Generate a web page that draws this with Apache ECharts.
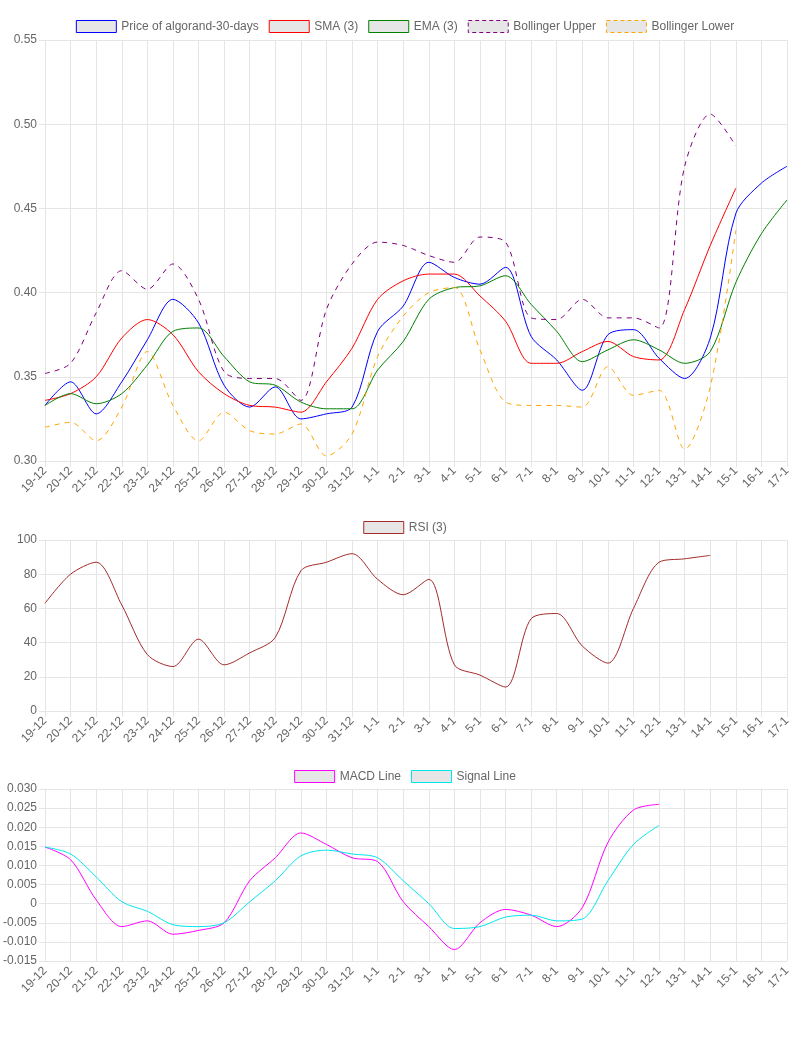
<!DOCTYPE html>
<html>
<head>
<meta charset="utf-8">
<script src="https://cdn.jsdelivr.net/npm/echarts@6/dist/echarts.min.js"></script>
<style>
  html, body { margin: 0; padding: 0; background: #fff; }
  #chart { width: 810px; height: 1060px; }
</style>
</head>
<body>
<div id="chart"></div>
<script>
// dates
const dates = ['19-12','20-12','21-12','22-12','23-12','24-12','25-12','26-12','27-12','28-12','29-12','30-12','31-12',
  '1-1','2-1','3-1','4-1','5-1','6-1','7-1','8-1','9-1','10-1','11-1','12-1','13-1','14-1','15-1','16-1','17-1'];

// price chart
const price = [0.333,0.347,0.328,0.347,0.372,0.396,0.382,0.345,0.332,0.344,0.325,0.328,0.332,0.377,0.392,
  0.418,0.409,0.405,0.415,0.374,0.360,0.342,0.375,0.378,0.361,0.349,0.373,0.447,0.465,0.475];
const sma = [0.336,0.340,0.350,0.373,0.384,0.375,0.353,0.340,0.333,0.332,0.329,0.347,0.367,0.396,0.407,
  0.411,0.411,0.398,0.383,0.358,0.358,0.365,0.371,0.362,0.360,0.390,0.428,0.462,null,null];
const ema = [0.333,0.340,0.334,0.340,0.357,0.377,0.379,0.362,0.347,0.345,0.335,0.331,0.331,0.354,0.371,
  0.396,0.403,0.404,0.410,0.393,0.377,0.359,0.366,0.372,0.366,0.358,0.365,0.406,0.435,0.455];
const bbUpper = [0.352,0.358,0.388,0.413,0.402,0.417,0.396,0.353,0.349,0.349,0.336,0.390,0.417,0.430,0.428,
  0.422,0.418,0.433,0.430,0.385,0.384,0.396,0.385,0.385,0.379,0.475,0.506,0.487,null,null];
const bbLower = [0.320,0.323,0.312,0.332,0.365,0.333,0.312,0.329,0.318,0.316,0.322,0.303,0.316,0.362,0.386,
  0.400,0.403,0.366,0.335,0.333,0.333,0.332,0.356,0.339,0.342,0.307,0.344,0.437,null,null];

// RSI
const rsi = [63,80,87,62,33,26,42,27,34,43,82,87,92,77,68,77,27,21,14,54,57,38,28,60,87,89,91,null,null,null];

// MACD
const macd = [0.0148,0.0115,0.001,-0.006,-0.0045,-0.008,-0.007,-0.005,0.006,0.012,0.0185,0.0155,0.012,0.011,
  0.0005,-0.006,-0.012,-0.005,-0.0015,-0.003,-0.006,-0.001,0.016,0.0245,0.026,null,null,null,null,null];
const signal = [0.0148,0.013,0.007,0.0005,-0.002,-0.0055,-0.006,-0.005,0.0005,0.006,0.0125,0.014,0.013,0.012,
  0.006,0,-0.0065,-0.006,-0.0035,-0.003,-0.0045,-0.004,0.006,0.0155,0.0205,null,null,null,null,null];

const chart = echarts.init(document.getElementById('chart'));
const gridColor = '#e5e5e5';
const txt = { color: '#666', fontSize: 12, fontFamily: 'Arial, Liberation Sans, sans-serif' };

function xAxis(i) {
  return {
    type: 'category', gridIndex: i, data: dates, boundaryGap: false,
    axisLine: { lineStyle: { color: gridColor } },
    axisTick: { show: true, length: 6, lineStyle: { color: gridColor } },
    axisLabel: Object.assign({ rotate: 45, interval: 0, margin: 8 }, txt),
    splitLine: { show: true, lineStyle: { color: gridColor } }
  };
}
function yAxis(i, min, max, step, fmt) {
  return {
    type: 'value', gridIndex: i, min: min, max: max, interval: step,
    axisLine: { show: true, lineStyle: { color: gridColor } },
    axisTick: { show: true, length: 6, lineStyle: { color: gridColor } },
    axisLabel: Object.assign({ formatter: fmt }, txt),
    splitLine: { lineStyle: { color: gridColor } }
  };
}
function line(name, data, color, xi, dashed) {
  return {
    name: name, type: 'line', data: data, xAxisIndex: xi, yAxisIndex: xi,
    smooth: 0.3, symbol: 'none', connectNulls: false,
    lineStyle: { color: color, width: 1, type: dashed ? [5, 5] : 'solid' },
    itemStyle: { color: '#e6e6e6', borderColor: color, borderWidth: 1 }
  };
}
// legend entries: [name, colour, dashed]
function legend(top, items) {
  return {
    top: top, left: 'center', itemWidth: 40, itemHeight: 12, itemGap: 10, icon: 'rect',
    textStyle: txt,
    data: items.map(it => ({
      name: it[0],
      itemStyle: { color: '#e6e6e6', borderColor: it[1], borderWidth: 1, borderType: it[2] ? [4, 3] : 'solid' },
      lineStyle: { opacity: 0 }
    }))
  };
}

chart.setOption({
  animation: false,
  backgroundColor: '#fff',
  legend: [
    legend(15, [['Price of algorand-30-days', '#0000ff'], ['SMA (3)', '#ff0000'], ['EMA (3)', '#008000'],
      ['Bollinger Upper', '#800080', true], ['Bollinger Lower', '#ffa500', true]]),
    legend(516, [['RSI (3)', '#a52a2a']]),
    legend(765, [['MACD Line', '#ff00ff'], ['Signal Line', '#00e5ee']])
  ],
  grid: [
    { left: 45, right: 23, top: 40, height: 421 },
    { left: 45, right: 23, top: 540, height: 171 },
    { left: 45, right: 23, top: 789, height: 172 }
  ],
  xAxis: [xAxis(0), xAxis(1), xAxis(2)],
  yAxis: [
    yAxis(0, 0.30, 0.55, 0.05, v => v.toFixed(2)),
    yAxis(1, 0, 100, 20, v => String(v)),
    yAxis(2, -0.015, 0.030, 0.005, v => Math.abs(v) < 1e-9 ? '0' : v.toFixed(3))
  ],
  series: [
    line('Price of algorand-30-days', price, '#0000ff', 0),
    line('SMA (3)', sma, '#ff0000', 0),
    line('EMA (3)', ema, '#008000', 0),
    line('Bollinger Upper', bbUpper, '#800080', 0, true),
    line('Bollinger Lower', bbLower, '#ffa500', 0, true),
    line('RSI (3)', rsi, '#a52a2a', 1),
    line('MACD Line', macd, '#ff00ff', 2),
    line('Signal Line', signal, '#00e5ee', 2)
  ]
});
</script>
</body>
</html>
